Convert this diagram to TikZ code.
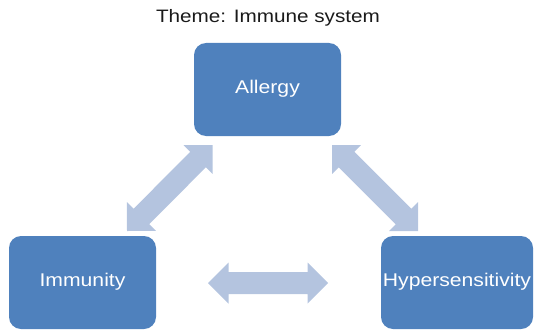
\documentclass[tikz,border=0pt]{standalone}
\usepackage{fontspec}
\setmainfont[FakeStretch=1.15]{Liberation Sans}
\usetikzlibrary{calc}

\definecolor{boxblue}{RGB}{79,129,189}
\definecolor{arrowblue}{RGB}{180,196,223}
\definecolor{titlegray}{RGB}{26,26,26}

% double-headed block arrow between two named points
\newcommand\dblarrow[2]{%
  \fill[arrowfill] (#1)
    -- ($(#1)!20.5pt!(#2)!20.5pt!90:(#2)$)
    -- ($(#1)!20.5pt!(#2)!11pt!90:(#2)$)
    -- ($(#2)!20.5pt!(#1)!11pt!-90:(#1)$)
    -- ($(#2)!20.5pt!(#1)!20.5pt!-90:(#1)$)
    -- (#2)
    -- ($(#2)!20.5pt!(#1)!20.5pt!90:(#1)$)
    -- ($(#2)!20.5pt!(#1)!11pt!90:(#1)$)
    -- ($(#1)!20.5pt!(#2)!11pt!-90:(#2)$)
    -- ($(#1)!20.5pt!(#2)!20.5pt!-90:(#2)$)
    -- cycle;}

\tikzset{
  topic/.style={draw=none, fill=boxblue, rounded corners=12pt,
    minimum height=93pt, inner sep=0pt, text=white,
    text height=12.5pt, text depth=5.5pt,
    font=\fontsize{18.4}{21}\selectfont},
  arrowfill/.style={fill=arrowblue},
  heading/.style={text=titlegray, inner sep=0pt, anchor=base,
    font=\fontsize{18}{21}\selectfont},
}

\begin{document}
\begin{tikzpicture}[x=1pt, y=-1pt]
  \useasboundingbox (0,0) rectangle (534,329);

  \node[heading] (title) at (268,22.5) {Theme: Immune system};

  \node[topic, minimum width=147pt] (allergy) at (267.5,89.5) {Allergy};
  \node[topic, minimum width=147pt] (immunity) at (82.5,282.5) {Immunity};
  \node[topic, minimum width=152pt] (hyper) at (457,282.5) {Hypersensitivity};

  % arrow ends
  \coordinate (la) at (127,231);
  \coordinate (lb) at (212.5,145);
  \coordinate (ra) at (332,145);
  \coordinate (rb) at (418,231);
  \coordinate (ha) at (208,283);
  \coordinate (hb) at (328,283);

  \dblarrow{la}{lb}
  \dblarrow{ra}{rb}
  \dblarrow{ha}{hb}
\end{tikzpicture}
\end{document}
